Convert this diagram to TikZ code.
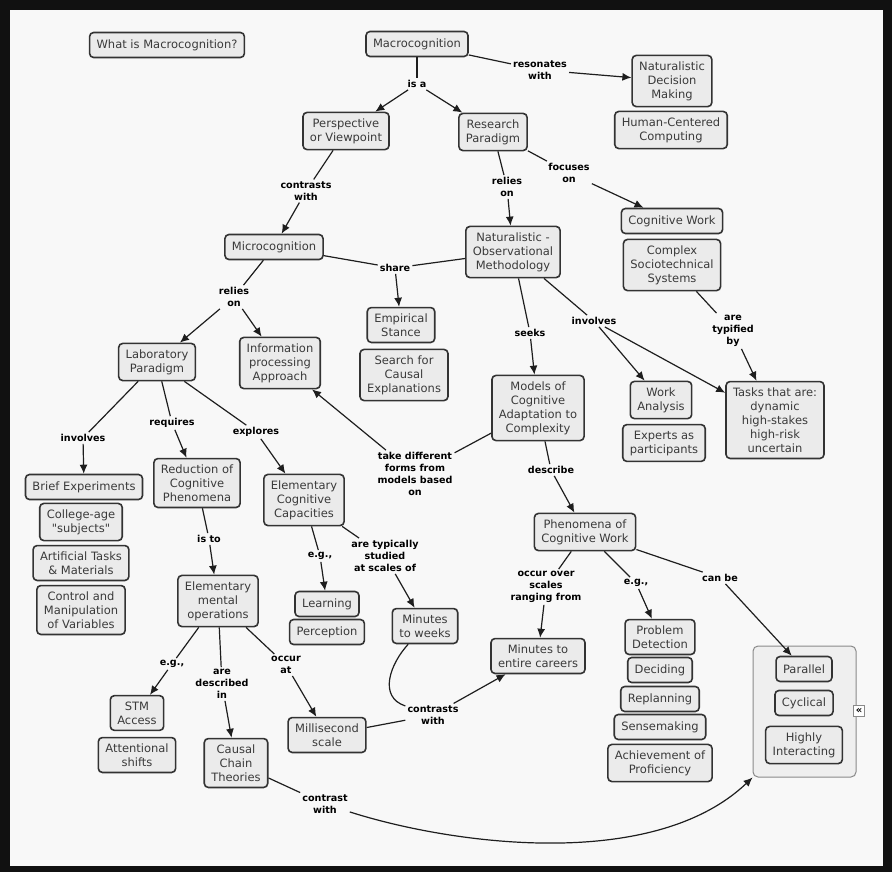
\documentclass[tikz,border=0pt]{standalone}
\usepackage{fontspec}
\setmainfont{DejaVu Sans}[Ligatures=TeXOff]
\usetikzlibrary{arrows.meta}
\definecolor{frame}{HTML}{111111}
\definecolor{mapbg}{HTML}{F8F8F8}
\definecolor{boxfill}{HTML}{EBEBEB}
\definecolor{boxline}{HTML}{333333}
\definecolor{boxtext}{HTML}{3A3A3A}
\definecolor{linkline}{HTML}{1E1E1E}
\definecolor{groupline}{HTML}{8A8A8A}
\definecolor{groupfill}{HTML}{EFEFEF}
\tikzset{
  concept/.style={draw=boxline, fill=boxfill, text=boxtext, line width=1.6pt,
    rounded corners=4pt, align=center, inner xsep=7pt, inner ysep=6pt,
    minimum height=25pt, font=\fontsize{11.5}{14}\selectfont},
  link/.style={align=center, inner sep=2pt, font=\bfseries\fontsize{9.6}{12}\selectfont},
  conn/.style={draw=linkline, line width=1.2pt},
  arr/.style={conn, -{Latex[length=9pt,width=8pt]}},
  groupbox/.style={draw=groupline, fill=groupfill, line width=1pt, rounded corners=5pt}
}

\begin{document}
\begin{tikzpicture}[x=1pt, y=-1pt, >=Latex]
  \fill[frame] (0,0) rectangle (892,872);
  \fill[mapbg] (10,10) rectangle (883,866);
  % grouped box on the right
  \node[groupbox, minimum width=103pt, minimum height=131pt] (group) at (804.5,711.5) {};
  \node[draw=groupline, fill=white, line width=0.6pt, inner sep=0pt, minimum size=11pt,
    font=\bfseries\fontsize{10}{10}\selectfont] (toggle) at (859,711) {«};
  % concepts
  \node[concept] (whatis) at (167,45) {What is Macrocognition?};
  \node[concept] (macro) at (417,44) {Macrocognition};
  \node[concept] (persp) at (346,131) {Perspective\\or Viewpoint};
  \node[concept] (research) at (493,132) {Research\\Paradigm};
  \node[concept] (ndm) at (672,81) {Naturalistic\\Decision\\Making};
  \node[concept] (hcc) at (671,130) {Human-Centered\\Computing};
  \node[concept] (micro) at (274,247) {Microcognition};
  \node[concept] (natobs) at (513,252) {Naturalistic -\\Observational\\Methodology};
  \node[concept] (cogwork) at (672,221) {Cognitive Work};
  \node[concept] (complex) at (672,265) {Complex\\Sociotechnical\\Systems};
  \node[concept] (lab) at (157,362) {Laboratory\\Paradigm};
  \node[concept] (info) at (280,363) {Information\\processing\\Approach};
  \node[concept] (empirical) at (401,325) {Empirical\\Stance};
  \node[concept] (search) at (404,375) {Search for\\Causal\\Explanations};
  \node[concept] (models) at (538,408) {Models of\\Cognitive\\Adaptation to\\Complexity};
  \node[concept] (work) at (661,400) {Work\\Analysis};
  \node[concept] (experts) at (664,443) {Experts as\\participants};
  \node[concept] (tasks) at (775,420) {Tasks that are:\\dynamic\\high-stakes\\high-risk\\uncertain};
  \node[concept] (brief) at (84,487) {Brief Experiments};
  \node[concept] (college) at (81,522) {College-age\\"subjects"};
  \node[concept] (artificial) at (81,563) {Artificial Tasks\\\& Materials};
  \node[concept] (control) at (81,610) {Control and\\Manipulation\\of Variables};
  \node[concept] (reduction) at (197,483) {Reduction of\\Cognitive\\Phenomena};
  \node[concept] (ecc) at (304,500) {Elementary\\Cognitive\\Capacities};
  \node[concept] (phen) at (585,532) {Phenomena of\\Cognitive Work};
  \node[concept] (emo) at (218,601) {Elementary\\mental\\operations};
  \node[concept] (learning) at (327,604) {Learning};
  \node[concept] (perception) at (327,632) {Perception};
  \node[concept] (mtw) at (425,626) {Minutes\\to weeks};
  \node[concept] (mec) at (538,656) {Minutes to\\entire careers};
  \node[concept] (problem) at (660,637) {Problem\\Detection};
  \node[concept] (deciding) at (660,670) {Deciding};
  \node[concept] (replanning) at (660,699) {Replanning};
  \node[concept] (sensemaking) at (660,727) {Sensemaking};
  \node[concept] (achievement) at (660,763) {Achievement of\\Proficiency};
  \node[concept] (stm) at (137,713) {STM\\Access};
  \node[concept] (attentional) at (137,755) {Attentional\\shifts};
  \node[concept] (causal) at (236,763) {Causal\\Chain\\Theories};
  \node[concept] (msec) at (327,735) {Millisecond\\scale};
  \node[concept] (parallel) at (804,669) {Parallel};
  \node[concept] (cyclical) at (804,703) {Cyclical};
  \node[concept] (highly) at (804,745) {Highly\\Interacting};
  % linking phrases
  \node[link] (isa) at (417,84) {is a};
  \node[link] (resonates) at (540,70) {resonates\\with};
  \node[link] (contrastsA) at (306,191) {contrasts\\with};
  \node[link] (reliesR) at (507,187) {relies\\on};
  \node[link] (focuses) at (569,173) {focuses\\on};
  \node[link] (share) at (395,268) {share};
  \node[link] (reliesL) at (234,297) {relies\\on};
  \node[link] (seeks) at (530,333) {seeks};
  \node[link] (involvesR) at (594,321) {involves};
  \node[link] (typified) at (733,331) {are\\typified\\by};
  \node[link] (takediff) at (415,474) {take different\\forms from\\models based\\on};
  \node[link] (describe) at (551,470) {describe};
  \node[link] (involvesL) at (83,438) {involves};
  \node[link] (requires) at (172,423) {requires};
  \node[link] (explores) at (256,432) {explores};
  \node[link] (isto) at (209,539) {is to};
  \node[link] (egcap) at (320,556) {e.g.,};
  \node[link] (studied) at (385,556) {are typically\\studied\\at scales of};
  \node[link] (occurover) at (546,587) {occur over\\scales\\ranging from};
  \node[link] (egphen) at (636,583) {e.g.,};
  \node[link] (canbe) at (720,578) {can be};
  \node[link] (egemo) at (172,664) {e.g.,};
  \node[link] (described) at (222,684) {are\\described\\in};
  \node[link] (occurat) at (286,665) {occur\\at};
  \node[link] (contrastsB) at (433,715) {contrasts\\with};
  \node[link] (contrastC) at (325,804) {contrast\\with};
  % connectors
  \draw[conn] (macro) -- (isa);
  \draw[arr] (isa) -- (persp);
  \draw[arr] (isa) -- (research);
  \draw[conn] (macro) -- (resonates);
  \draw[arr] (resonates) -- (ndm);
  \draw[conn] (persp) -- (contrastsA);
  \draw[arr] (contrastsA) -- (micro);
  \draw[conn] (research) -- (reliesR);
  \draw[arr] (reliesR) -- (natobs);
  \draw[conn] (research) -- (focuses);
  \draw[arr] (focuses) -- (cogwork);
  \draw[conn] (micro) -- (share);
  \draw[conn] (natobs) -- (share);
  \draw[arr] (share) -- (empirical);
  \draw[conn] (micro) -- (reliesL);
  \draw[arr] (reliesL) -- (lab);
  \draw[arr] (reliesL) -- (info);
  \draw[conn] (natobs) -- (seeks);
  \draw[arr] (seeks) -- (models);
  \draw[conn] (natobs) -- (involvesR);
  \draw[arr] (involvesR) -- (work);
  \draw[arr] (involvesR) -- (tasks);
  \draw[conn] (complex) -- (typified);
  \draw[arr] (typified) -- (tasks);
  \draw[conn] (models) -- (takediff);
  \draw[arr] (takediff) -- (info);
  \draw[conn] (models) -- (describe);
  \draw[arr] (describe) -- (phen);
  \draw[conn] (lab) -- (involvesL);
  \draw[arr] (involvesL) -- (brief);
  \draw[conn] (lab) -- (requires);
  \draw[arr] (requires) -- (reduction);
  \draw[conn] (lab) -- (explores);
  \draw[arr] (explores) -- (ecc);
  \draw[conn] (reduction) -- (isto);
  \draw[arr] (isto) -- (emo);
  \draw[conn] (ecc) -- (egcap);
  \draw[arr] (egcap) -- (learning);
  \draw[conn] (ecc) -- (studied);
  \draw[arr] (studied) -- (mtw);
  \draw[conn] (emo) -- (egemo);
  \draw[arr] (egemo) -- (stm);
  \draw[conn] (emo) -- (described);
  \draw[arr] (described) -- (causal);
  \draw[conn] (emo) -- (occurat);
  \draw[arr] (occurat) -- (msec);
  \draw[conn] (mtw) .. controls +(-35,38) and +(-55,-18) .. (contrastsB);
  \draw[conn] (msec) -- (contrastsB);
  \draw[arr] (contrastsB) -- (mec);
  \draw[conn] (phen) -- (occurover);
  \draw[arr] (occurover) -- (mec);
  \draw[conn] (phen) -- (egphen);
  \draw[arr] (egphen) -- (problem);
  \draw[conn] (phen) -- (canbe);
  \draw[arr] (canbe) -- (parallel);
  \draw[conn] (causal) -- (contrastC);
  \draw[arr] (contrastC) .. controls +(125,40) and +(-100,95) .. (group.south west);
\end{tikzpicture}
\end{document}
